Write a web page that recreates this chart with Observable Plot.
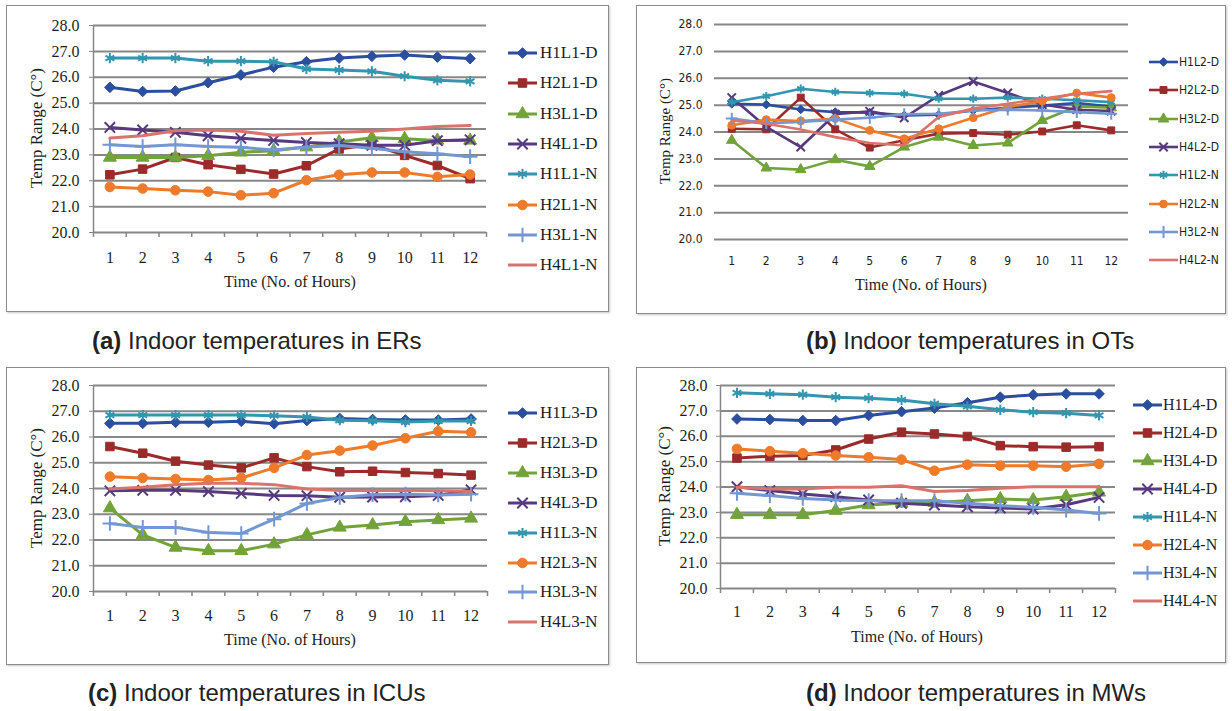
<!DOCTYPE html>
<html><head><meta charset="utf-8">
<script src="https://cdn.jsdelivr.net/npm/d3@7"></script>
<script src="https://cdn.jsdelivr.net/npm/@observablehq/plot@0.6"></script>
<style>
html,body{margin:0;padding:0;background:#fff;}
#root{position:relative;width:1232px;height:711px;overflow:hidden;background:#fff;}
.panel{position:absolute;border:1.5px solid #8c8c8c;box-sizing:border-box;background:#fff;box-shadow:1px 1px 2px #c8c8c8;}
.abs{position:absolute;white-space:nowrap;}
.serif{font-family:"Liberation Serif","Times New Roman",serif;color:#1e1e1e;}
.caption{font-family:"Liberation Sans Narrow","Arial Narrow",sans-serif;font-size:24px;color:#222;}
</style></head><body>
<div id="root"></div>
<script>
// ---------- data ----------
const hours = [1,2,3,4,5,6,7,8,9,10,11,12];
const yTicks = [20,21,22,23,24,25,26,27,28];

const erNames = ["H1L1-D","H2L1-D","H3L1-D","H4L1-D","H1L1-N","H2L1-N","H3L1-N","H4L1-N"];
const erTemps = [
  [25.61,25.45,25.47,25.79,26.09,26.39,26.60,26.74,26.81,26.86,26.78,26.72],
  [22.23,22.45,22.90,22.62,22.44,22.26,22.58,23.23,23.40,22.98,22.59,22.08],
  [22.90,22.90,22.90,22.97,23.10,23.16,23.30,23.50,23.66,23.62,23.56,23.56],
  [24.06,23.96,23.87,23.74,23.64,23.56,23.48,23.43,23.37,23.37,23.55,23.58],
  [26.74,26.74,26.74,26.62,26.62,26.60,26.32,26.28,26.23,26.04,25.88,25.84],
  [21.76,21.70,21.63,21.58,21.44,21.52,22.02,22.23,22.32,22.32,22.15,22.24],
  [23.39,23.32,23.39,23.32,23.29,23.19,23.30,23.36,23.26,23.12,23.04,22.93],
  [23.65,23.74,23.93,23.96,23.91,23.76,23.83,23.87,23.91,24.00,24.10,24.14]
];

const otNames = ["H1L2-D","H2L2-D","H3L2-D","H4L2-D","H1L2-N","H2L2-N","H3L2-N","H4L2-N"];
const otTemps = [
  [25.05,25.02,24.84,24.74,24.72,24.62,24.64,24.80,24.90,24.98,25.08,24.95],
  [24.12,24.10,25.28,24.10,23.42,23.69,23.94,23.96,23.90,24.02,24.25,24.06],
  [23.69,22.66,22.60,22.97,22.72,23.44,23.81,23.50,23.59,24.43,24.95,24.90],
  [25.28,24.19,23.44,24.66,24.77,24.53,25.36,25.88,25.45,25.02,24.83,24.78],
  [25.11,25.33,25.61,25.49,25.45,25.42,25.24,25.24,25.28,25.24,25.18,25.11],
  [24.25,24.46,24.41,24.50,24.06,23.75,24.12,24.53,24.93,25.15,25.45,25.28],
  [24.50,24.33,24.37,24.46,24.53,24.66,24.68,24.80,24.83,24.80,24.74,24.68],
  [24.43,24.31,24.09,23.81,23.59,23.50,24.56,24.87,25.05,25.24,25.42,25.52]
];

const icuNames = ["H1L3-D","H2L3-D","H3L3-D","H4L3-D","H1L3-N","H2L3-N","H3L3-N","H4L3-N"];
const icuTemps = [
  [26.53,26.53,26.57,26.57,26.61,26.51,26.64,26.72,26.68,26.66,26.66,26.70],
  [25.63,25.37,25.06,24.91,24.80,25.19,24.85,24.65,24.67,24.62,24.58,24.52],
  [23.24,22.20,21.71,21.58,21.58,21.84,22.20,22.49,22.58,22.71,22.78,22.84],
  [23.91,23.93,23.93,23.88,23.81,23.73,23.72,23.66,23.67,23.68,23.73,23.95],
  [26.85,26.85,26.85,26.85,26.85,26.83,26.78,26.65,26.63,26.58,26.62,26.62],
  [24.46,24.41,24.37,24.33,24.41,24.80,25.30,25.47,25.67,25.95,26.22,26.18],
  [22.64,22.49,22.49,22.29,22.25,22.81,23.42,23.65,23.76,23.78,23.75,23.78],
  [23.98,24.05,24.15,24.20,24.20,24.15,23.98,23.92,23.92,23.92,23.91,23.88]
];

const mwNames = ["H1L4-D","H2L4-D","H3L4-D","H4L4-D","H1L4-N","H2L4-N","H3L4-N","H4L4-N"];
const mwTemps = [
  [26.68,26.66,26.62,26.62,26.82,26.97,27.11,27.32,27.54,27.63,27.67,27.67],
  [25.14,25.21,25.24,25.46,25.89,26.16,26.09,25.99,25.63,25.59,25.57,25.59],
  [22.91,22.91,22.91,23.07,23.29,23.36,23.39,23.46,23.53,23.49,23.62,23.79],
  [24.01,23.86,23.72,23.62,23.49,23.36,23.29,23.22,23.17,23.13,23.30,23.59],
  [27.71,27.67,27.64,27.54,27.50,27.43,27.28,27.18,27.04,26.95,26.91,26.82],
  [25.50,25.41,25.33,25.24,25.17,25.08,24.64,24.88,24.84,24.84,24.80,24.91],
  [23.75,23.66,23.55,23.49,23.46,23.46,23.46,23.36,23.26,23.20,23.09,22.96],
  [23.99,23.92,23.92,23.99,23.99,24.05,23.82,23.86,23.95,24.01,24.01,24.01]
];

const captions = [
  ["(a)", " Indoor temperatures in ERs"],
  ["(b)", " Indoor temperatures in OTs"],
  ["(c)", " Indoor temperatures in ICUs"],
  ["(d)", " Indoor temperatures in MWs"]
];
const xTitle = "Time (No. of Hours)";
const yTitle = "Temp Range (C°)";

// ---------- styles ----------
const colors = ["#2b4f9e","#9b2b2b","#71a33a","#57397f","#3396ae","#ee7a2a","#7397d3","#d9736c"];
const symbols = ["diamond2","square","triangle","times","asterisk","circle","plus"];
const d3Sym = {diamond2:d3.symbolDiamond2, square:d3.symbolSquare, triangle:d3.symbolTriangle,
  times:d3.symbolTimes, asterisk:d3.symbolAsterisk, circle:d3.symbolCircle, plus:d3.symbolPlus};
const serif = '"Liberation Serif","Times New Roman",serif';
const narrow = '"Liberation Sans Narrow","Arial Narrow","DejaVu Sans Condensed",sans-serif';
const gridColor = "#878787";

const root = document.getElementById("root");
function div(cls, css, html){ const d=document.createElement("div"); d.className=cls; Object.assign(d.style, css); if(html!=null) d.innerHTML=html; root.appendChild(d); return d; }
const isStroke = s => s==="times"||s==="asterisk"||s==="plus";

function panel(cfg){
  const {names, temps} = cfg;
  div("panel", {left:cfg.box[0]+"px", top:cfg.box[1]+"px", width:cfg.box[2]+"px", height:cfg.box[3]+"px"});
  const rows = [];
  names.forEach((n,i)=> temps[i].forEach((v,j)=> rows.push({series:n, idx:i, hour:hours[j], temp:v})));
  const xDom = [hours[0]-0.5, hours[hours.length-1]+0.5];
  const bounds = hours.map(h=>h-0.5).concat([xDom[1]]);
  const marks = [
    Plot.gridY(yTicks, {stroke:gridColor, strokeOpacity:1, strokeWidth:cfg.gridW})
  ];
  if (cfg.axisLine){
    marks.push(Plot.ruleX([xDom[0]], {stroke:gridColor, strokeWidth:1.5}));
    marks.push(Plot.axisX({ticks:bounds, tickSize:5, tickFormat:()=>"", stroke:gridColor, strokeWidth:1.5, label:null}));
  }
  marks.push(Plot.axisY({ticks:yTicks, tickFormat:d=>d.toFixed(1), tickSize:cfg.axisLine?4:0, tickPadding:cfg.yPad, stroke:gridColor, label:null, fill:"#1e1e1e"}));
  marks.push(Plot.axisX({ticks:hours, tickSize:0, tickPadding:cfg.xPad, tickFormat:d=>String(d), label:null, fill:"#1e1e1e"}));
  names.forEach((n,i)=>{
    const sub = rows.filter(d=>d.idx===i);
    marks.push(Plot.line(sub, {x:"hour", y:"temp", stroke:colors[i], strokeWidth:cfg.lw, strokeLinejoin:"round"}));
    if (i < symbols.length){
      marks.push(Plot.dot(sub, {x:"hour", y:"temp", symbol:()=>symbols[i], fill:colors[i], stroke:colors[i], strokeWidth:isStroke(symbols[i])?2:1, r:cfg.r}));
    }
  });
  const p = cfg.plot;
  const svg = Plot.plot({
    width:p.width, height:p.height,
    marginLeft:p.ml, marginRight:p.mr, marginTop:p.mt, marginBottom:p.mb,
    x:{domain:xDom, axis:null},
    y:{domain:[yTicks[0], yTicks[yTicks.length-1]], axis:null},
    symbol:{type:"identity"},
    style:{fontFamily:cfg.tickFont, fontSize:cfg.tickSize+"px", background:"transparent", color:"#1e1e1e"},
    marks
  });
  svg.style.position="absolute"; svg.style.left=p.left+"px"; svg.style.top=p.top+"px";
  root.appendChild(svg);
  div("abs serif", {left:cfg.xt[0]+"px", top:cfg.xt[1]+"px", transform:"translate(-50%,-50%)", fontSize:cfg.xtSize+"px"}, xTitle);
  div("abs serif", {left:cfg.yt[0]+"px", top:cfg.yt[1]+"px", transform:"translate(-50%,-50%) rotate(-90deg)", fontSize:cfg.ytSize+"px"}, yTitle);
  const L = cfg.legend;
  names.forEach((n,i)=>{
    const cy = L.y0 + i*L.dy;
    const s = d3.create("svg").attr("width", L.x1-L.x0+10).attr("height", 20)
      .style("position","absolute").style("left",(L.x0-5)+"px").style("top",(cy-10)+"px");
    s.append("line").attr("x1",5).attr("x2",L.x1-L.x0+5).attr("y1",10).attr("y2",10)
      .attr("stroke",colors[i]).attr("stroke-width",cfg.lw);
    if (i < symbols.length){
      const sym = symbols[i];
      s.append("path").attr("transform",`translate(${(L.x1-L.x0)/2+5},10)`)
        .attr("d", d3.symbol(d3Sym[sym], Math.PI*cfg.r*cfg.r)())
        .attr("fill",colors[i]).attr("stroke",colors[i])
        .attr("stroke-width", isStroke(sym)?2:1);
    }
    root.appendChild(s.node());
    div("abs", {left:L.tx+"px", top:cy+"px", transform:"translateY(-50%)", fontFamily:L.font, fontSize:L.size+"px", color:"#1e1e1e"}, n);
  });
  div("abs caption", {left:cfg.cap[0]+"px", top:cfg.cap[1]+"px", transform:"translateY(-50%)"},
    `<b>${cfg.caption[0]}</b>${cfg.caption[1]}`);
}

panel({names:erNames, temps:erTemps, caption:captions[0],
  box:[6,5,603,307], gridW:2, axisLine:true, lw:3, r:4.8,
  tickFont:serif, tickSize:16, yPad:10, xPad:19,
  plot:{left:6, top:5, width:500, height:307, ml:87, mr:20, mt:20, mb:80},
  xt:[290,282], xtSize:16, yt:[37,128], ytSize:17,
  legend:{x0:508, x1:537, tx:540, y0:53, dy:30.3, font:serif, size:17},
  cap:[92,341]});

panel({names:otNames, temps:otTemps, caption:captions[1],
  box:[636,5,590,309], gridW:2, axisLine:false, lw:2.6, r:3.9,
  tickFont:narrow, tickSize:12, yPad:12, xPad:17,
  plot:{left:636, top:5, width:502, height:309, ml:78, mr:10, mt:19, mb:75},
  xt:[921,285], xtSize:16, yt:[665,131], ytSize:15,
  legend:{x0:1149, x1:1178, tx:1179, y0:62, dy:28.3, font:narrow, size:12},
  cap:[806,341]});

panel({names:icuNames, temps:icuTemps, caption:captions[2],
  box:[6,367,603,298], gridW:2, axisLine:true, lw:3, r:4.8,
  tickFont:serif, tickSize:16, yPad:10, xPad:18,
  plot:{left:6, top:367, width:501, height:298, ml:87, mr:20, mt:18, mb:74},
  xt:[290,640], xtSize:16, yt:[37,488], ytSize:17,
  legend:{x0:508, x1:537, tx:540, y0:413, dy:29.9, font:serif, size:17},
  cap:[88,693]});

panel({names:mwNames, temps:mwTemps, caption:captions[3],
  box:[636,367,590,296], gridW:2, axisLine:true, lw:3, r:4.8,
  tickFont:serif, tickSize:16, yPad:9, xPad:17,
  plot:{left:636, top:367, width:491, height:296, ml:84, mr:12, mt:18, mb:75},
  xt:[917,637], xtSize:16, yt:[665,486], ytSize:17,
  legend:{x0:1133, x1:1162, tx:1163, y0:405, dy:28, font:serif, size:16},
  cap:[806,693]});
</script>
</body></html>
